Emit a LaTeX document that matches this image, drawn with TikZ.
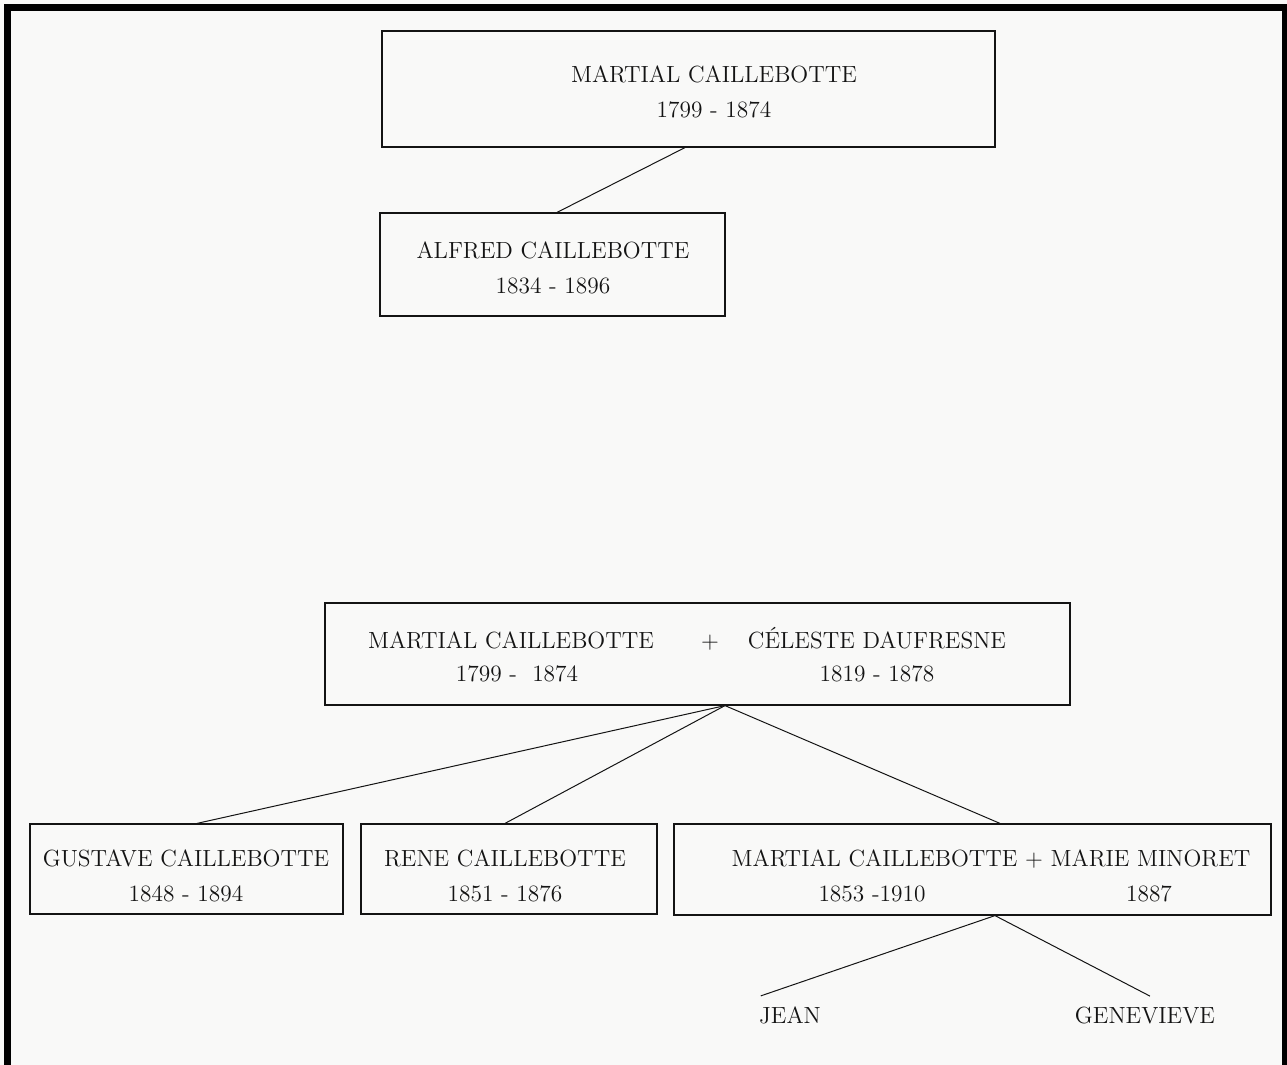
\documentclass[tikz,border=0pt]{standalone}
\usepackage{fontspec}
\usetikzlibrary{positioning,calc}
\definecolor{paper}{RGB}{249,249,248}
\definecolor{ink}{RGB}{20,20,20}
\tikzset{
  persbox/.style={draw=ink,rectangle,line width=0.6pt,inner sep=0pt},
  nm/.style={inner sep=0pt,anchor=base,text=ink,font=\fontsize{11.7}{14}\selectfont},
  lnk/.style={draw=ink,line width=0.5pt}
}

\begin{document}
\begin{tikzpicture}[x=0.5pt,y=-0.5pt]
  % page and frame
  \useasboundingbox (0,0) rectangle (1287,1065);
  \fill[paper] (0,0) rectangle (1287,1065);
  \fill[black] (4,4) rectangle (11,1065);
  \fill[black] (4,4) rectangle (1287,11);
  \fill[black] (1282,4) rectangle (1287,1065);

  % boxes
  \node[persbox,minimum width=306.5pt,minimum height=58pt] (mart) at (688.5,89) {};
  \node[persbox,minimum width=172.5pt,minimum height=51.5pt] (alfr) at (552.5,264.5) {};
  \node[persbox,minimum width=372.5pt,minimum height=51pt] (couple) at (697.5,654) {};
  \node[persbox,minimum width=156.5pt,minimum height=45pt] (gust) at (186.5,869) {};
  \node[persbox,minimum width=148pt,minimum height=45pt] (rene) at (509,869) {};
  \node[persbox,minimum width=298.5pt,minimum height=45.5pt] (martjr) at (972.5,869.5) {};

  % texts (placed on their baselines)
  \node[nm] (martN) at (714,83) {MARTIAL CAILLEBOTTE};
  \node[nm] (martD) at (714,118) {1799 - 1874};
  \node[nm] (alfrN) at (553,258) {ALFRED CAILLEBOTTE};
  \node[nm] (alfrD) at (553,293) {1834 - 1896};
  \node[nm] (cpN1) at (511,648) {MARTIAL CAILLEBOTTE};
  \node[nm] (cpPl) at (710,648) {+};
  \node[nm] (cpN2) at (877,648) {CÉLESTE DAUFRESNE};
  \node[nm] (cpD1) at (517,681) {1799 -\ \ 1874};
  \node[nm] (cpD2) at (877,681) {1819 - 1878};
  \node[nm] (gustN) at (186,866) {GUSTAVE CAILLEBOTTE};
  \node[nm] (gustD) at (186,901) {1848 - 1894};
  \node[nm] (reneN) at (505,866) {RENE CAILLEBOTTE};
  \node[nm] (reneD) at (505,901) {1851 - 1876};
  \node[nm] (mjN) at (991,866) {MARTIAL CAILLEBOTTE + MARIE MINORET};
  \node[nm] (mjD1) at (872,901) {1853 -1910};
  \node[nm] (mjD2) at (1149,901) {1887};
  \node[nm] (jean) at (790,1023) {JEAN};
  \node[nm] (gene) at (1145,1023) {GENEVIEVE};

  % links
  \draw[lnk] ([xshift=-1.75pt]mart.south) -- ([xshift=2.25pt]alfr.north);
  \draw[lnk] ([xshift=13.75pt]couple.south) -- ([xshift=5.25pt]gust.north);
  \draw[lnk] ([xshift=13.75pt]couple.south) -- ([xshift=-2pt]rene.north);
  \draw[lnk] ([xshift=13.75pt]couple.south) -- ([xshift=13.75pt]martjr.north);
  \draw[lnk] ([xshift=11.25pt]martjr.south) -- ([shift={(1pt,5pt)}]jean.north west);
  \draw[lnk] ([xshift=11.25pt]martjr.south) -- ([shift={(2.5pt,5pt)}]gene.north);
\end{tikzpicture}
\end{document}
